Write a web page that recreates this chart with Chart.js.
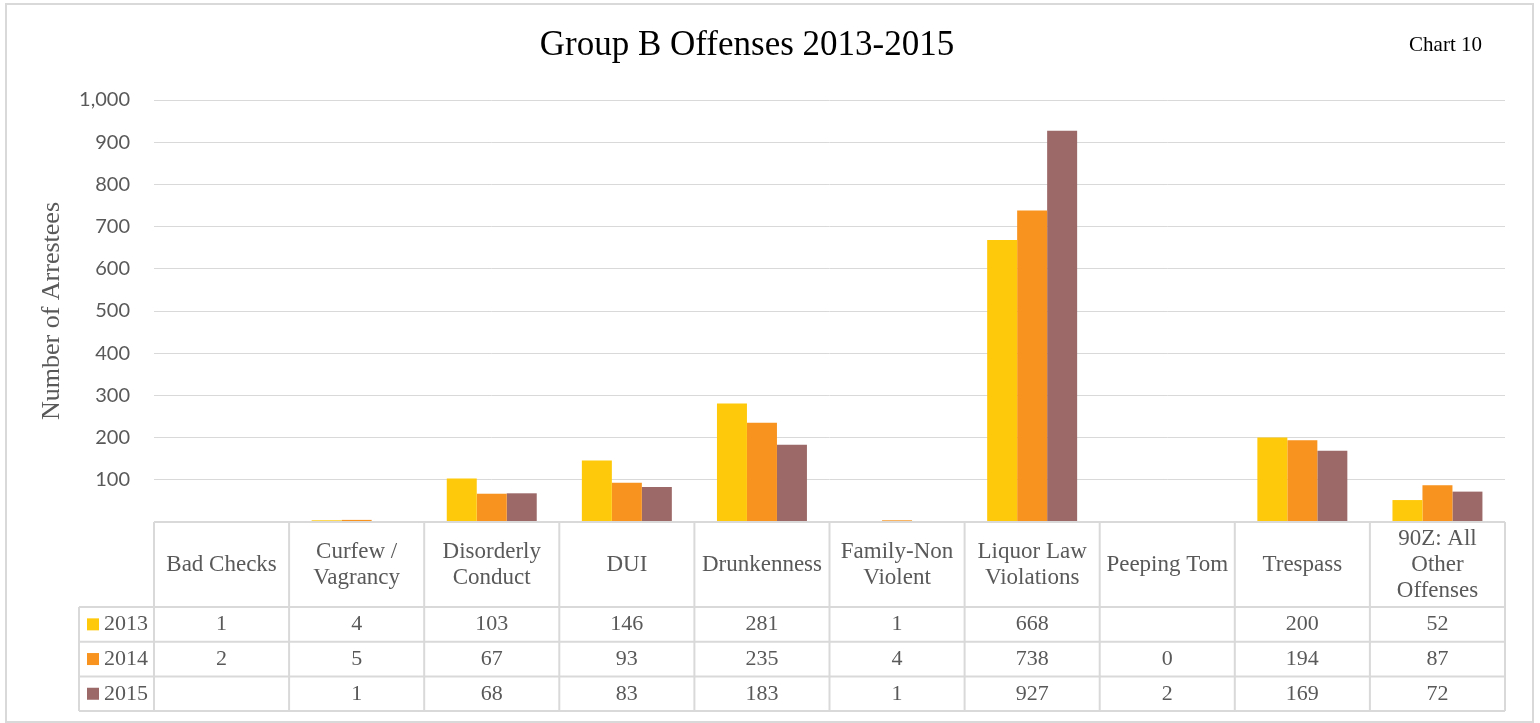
<!DOCTYPE html>
<html lang="en">
<head>
<meta charset="UTF-8">
<title>Group B Offenses 2013-2015</title>
<script src="https://cdn.jsdelivr.net/npm/chart.js"></script>
<style>
  body { margin: 0; background: #fff; }
  canvas { display: block; }
</style>
</head>
<body>
<canvas id="offenseChart" width="1540" height="723"></canvas>
<script>
// categories (header lines as shown in the data table)
const categories = [
  ["Bad Checks"], ["Curfew /", "Vagrancy"], ["Disorderly", "Conduct"], ["DUI"],
  ["Drunkenness"], ["Family-Non", "Violent"], ["Liquor Law", "Violations"],
  ["Peeping Tom"], ["Trespass"], ["90Z: All", "Other", "Offenses"]
];
const years = ["2013", "2014", "2015"];
const arrests2013 = [1, 4, 103, 146, 281, 1, 668, null, 200, 52];
const arrests2014 = [2, 5, 67, 93, 235, 4, 738, 0, 194, 87];
const arrests2015 = [null, 1, 68, 83, 183, 1, 927, 2, 169, 72];
const yMax = 1000, yStep = 100;

const colors = ["#FFC90B", "#F7931E", "#9C6968"];
const serif = "'Liberation Serif', 'Times New Roman', serif";
const textGray = "#595959";
const lineGray = "#d9d9d9";

// frame, title and "Chart 10" label
const frame = {
  id: "frame",
  beforeDraw(chart) {
    const ctx = chart.ctx;
    ctx.save();
    ctx.fillStyle = "#fff";
    ctx.fillRect(0, 0, chart.width, chart.height);
    ctx.strokeStyle = lineGray;
    ctx.lineWidth = 2;
    ctx.strokeRect(6, 4, 1527, 718);
    ctx.fillStyle = "#000";
    ctx.textBaseline = "middle";
    ctx.textAlign = "center";
    ctx.font = "35px " + serif;
    ctx.fillText("Group B Offenses 2013-2015", 747, 46);
    ctx.font = "21px " + serif;
    ctx.textAlign = "right";
    ctx.fillText("Chart 10", 1482, 45);
    ctx.restore();
  }
};

// data table under the plot, columns taken from the x scale
const dataTable = {
  id: "dataTable",
  afterDraw(chart) {
    const ctx = chart.ctx;
    const x = chart.scales.x;
    const n = categories.length;
    const colW = x.width / n;
    const top = chart.chartArea.bottom;
    const headH = 85, rowH = 34.7;
    const keyLeft = 79;
    const bottom = top + headH + rowH * years.length;

    ctx.save();
    ctx.strokeStyle = lineGray;
    ctx.lineWidth = 2;
    ctx.beginPath();
    ctx.moveTo(x.left, top); ctx.lineTo(x.right, top);
    for (let r = 0; r <= years.length; r++) {
      const y = top + headH + r * rowH;
      ctx.moveTo(keyLeft, y); ctx.lineTo(x.right, y);
    }
    for (let i = 0; i <= n; i++) {
      const cx = x.left + i * colW;
      ctx.moveTo(cx, top); ctx.lineTo(cx, bottom);
    }
    ctx.moveTo(keyLeft, top + headH); ctx.lineTo(keyLeft, bottom);
    ctx.stroke();

    ctx.fillStyle = textGray;
    ctx.textAlign = "center";
    ctx.textBaseline = "middle";
    ctx.font = "23px " + serif;
    categories.forEach((lines, i) => {
      const cx = x.getPixelForValue(i);
      const y0 = top + headH / 2 - (lines.length - 1) * 13;
      lines.forEach((t, k) => ctx.fillText(t, cx, y0 + k * 26));
    });

    ctx.font = "22px " + serif;
    chart.data.datasets.forEach((ds, r) => {
      const cy = top + headH + r * rowH + rowH / 2;
      ds.data.forEach((v, i) => {
        if (v === null) return;
        ctx.textAlign = "center";
        ctx.fillText(String(v), x.getPixelForValue(i), cy);
      });
      ctx.fillStyle = ds.backgroundColor;
      ctx.fillRect(87, cy - 6, 12, 12);
      ctx.fillStyle = textGray;
      ctx.textAlign = "left";
      ctx.fillText(ds.label, 104, cy);
    });
    ctx.restore();
  }
};

new Chart(document.getElementById("offenseChart"), {
  type: "bar",
  data: {
    labels: categories,
    datasets: [
      { label: years[0], data: arrests2013, backgroundColor: colors[0] },
      { label: years[1], data: arrests2014, backgroundColor: colors[1] },
      { label: years[2], data: arrests2015, backgroundColor: colors[2] }
    ]
  },
  options: {
    responsive: false,
    animation: false,
    categoryPercentage: 0.666,
    barPercentage: 1.0,
    layout: { padding: { left: 8, right: 35, top: 100, bottom: 201 } },
    plugins: {
      legend: { display: false },
      tooltip: { enabled: false },
      title: { display: false }
    },
    scales: {
      x: {
        display: false,
        grid: { display: false }
      },
      y: {
        min: 0,
        max: yMax,
        afterFit: s => { s.width = 146; },
        border: { display: false },
        grid: { color: lineGray, lineWidth: 1, drawTicks: false },
        ticks: {
          stepSize: yStep,
          padding: 24,
          color: textGray,
          font: { family: "Lato, 'Liberation Sans', sans-serif", size: 20 },
          callback: v => v === 0 ? "" : v.toLocaleString("en-US")
        },
        title: {
          display: true,
          text: "Number of Arrestees",
          color: textGray,
          font: { family: serif, size: 26 },
          padding: { top: 29, bottom: 0 }
        }
      }
    }
  },
  plugins: [frame, dataTable]
});
</script>
</body>
</html>
